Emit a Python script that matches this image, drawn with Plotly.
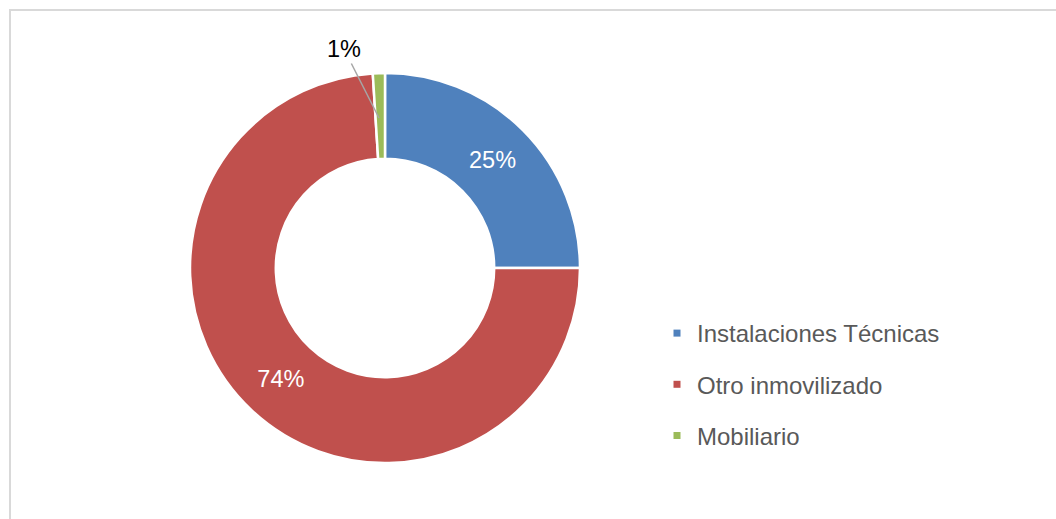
import plotly.graph_objects as go

# Distribution of fixed assets by category
categories = ["Instalaciones Técnicas", "Otro inmovilizado", "Mobiliario"]
percentages = [25, 74, 1]
colors = ["#4F81BD", "#C0504D", "#9BBB59"]

W, H = 1056, 519
FONT = "Liberation Sans, Arial, sans-serif"

# Pie centre and radius in pixels, converted to paper domain
cx, cy, r = 385, 268, 195

texts = [f"{v}%" for v in percentages]
inside_text = [t if v >= 5 else "" for t, v in zip(texts, percentages)]

fig = go.Figure()
fig.add_trace(go.Pie(
    labels=categories,
    values=percentages,
    sort=False,
    direction="clockwise",
    rotation=0,
    hole=0.56,
    marker=dict(colors=colors, line=dict(color="white", width=2.5)),
    text=inside_text,
    textinfo="text",
    textposition="inside",
    insidetextorientation="horizontal",
    textfont=dict(family=FONT, size=23.5, color="white"),
    domain=dict(x=[(cx - r) / W, (cx + r) / W], y=[(H - cy - r) / H, (H - cy + r) / H]),
    showlegend=False,
    hoverinfo="label+percent",
))

# Legend entries with small square markers
for i, (name, col) in enumerate(zip(categories, colors)):
    fig.add_trace(go.Scatter(
        x=[None], y=[None], mode="markers", name=name,
        legendgroup=f"g{i}",
        marker=dict(symbol="square", size=7, color=col),
    ))

# Small slice labelled outside with a leader line
small_idx = 2
fig.add_annotation(
    x=379 / W, y=1 - 118 / H, xref="paper", yref="paper",
    ax=-35, ay=-69, text=texts[small_idx], showarrow=True,
    arrowhead=0, arrowwidth=1.5, arrowcolor="#A6A6A6", standoff=0,
    font=dict(family=FONT, size=23.5, color="#000000"),
)

# Chart frame
fig.add_shape(type="rect", xref="paper", yref="paper",
              x0=10 / W, x1=1.02, y0=-0.02, y1=1 - 10 / H,
              line=dict(color="#D9D9D9", width=2), fillcolor="rgba(0,0,0,0)")

fig.update_layout(
    width=W, height=H,
    margin=dict(l=0, r=0, t=0, b=0),
    paper_bgcolor="white", plot_bgcolor="white",
    xaxis=dict(visible=False, domain=[0.9, 1]), yaxis=dict(visible=False, domain=[0.9, 1]),
    legend=dict(
        x=657 / W, y=1 - 311 / H, xanchor="left", yanchor="top",
        font=dict(family=FONT, size=24, color="#595959"),
        tracegroupgap=17, itemwidth=30,
        bgcolor="rgba(0,0,0,0)",
    ),
)

fig.write_html("out.html")
